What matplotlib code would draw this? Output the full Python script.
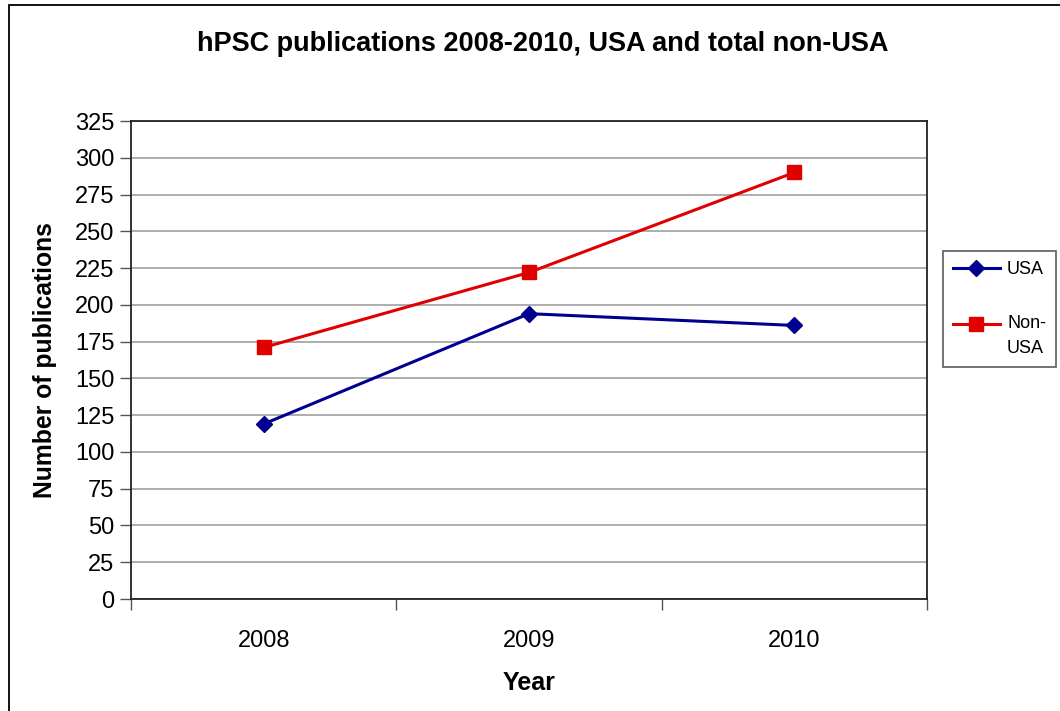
import matplotlib
matplotlib.use("Agg")
import matplotlib.pyplot as plt
from matplotlib.patches import Rectangle
from matplotlib.legend_handler import HandlerLine2D

plt.rcParams['font.family'] = ['Liberation Sans', 'DejaVu Sans']

years = ['2008', '2009', '2010']
usa = [119, 194, 186]
non_usa = [171, 222, 290]
y_ticks = list(range(0, 326, 25))

W, H = 1060, 711
fig = plt.figure(figsize=(W / 100, H / 100), dpi=100)

# outer chart frame
fig.patches.append(Rectangle((9 / W, -0.05), 1.2, 1 - 5 / H + 0.05,
                             transform=fig.transFigure, fill=False,
                             edgecolor='black', linewidth=1.3, zorder=0))

ax = fig.add_axes([131 / W, 1 - 599 / H, (927 - 131) / W, (599 - 121) / H])

x = list(range(len(years)))
l_usa, = ax.plot(x, usa, color='#000090', linewidth=2.2, marker='D', markersize=8,
                 label='USA', zorder=3)
l_non, = ax.plot(x, non_usa, color='#e00000', linewidth=2.2, marker='s', markersize=10,
                 label='Non-\nUSA', zorder=3)

ax.set_xlim(-0.5, 2.5)
ax.set_ylim(0, 325)
ax.set_yticks(y_ticks)
ax.set_yticklabels([str(t) for t in y_ticks])
ax.yaxis.grid(True, color='#a0a0a0', linewidth=1.2)
ax.set_axisbelow(True)

# category labels centred, tick marks on category boundaries
ax.set_xticks([-0.5, 0.5, 1.5, 2.5])
ax.set_xticklabels([])
ax.set_xticks(x, minor=True)
ax.set_xticklabels(years, minor=True)
ax.tick_params(axis='x', which='minor', length=0, pad=22, labelsize=17)
ax.tick_params(axis='x', which='major', length=8, width=1, color='#555555')
ax.tick_params(axis='y', length=8, width=1, color='#555555', labelsize=17, pad=4)

for s in ax.spines.values():
    s.set_color('#222222')
    s.set_linewidth(1.3)

ax.set_xlabel('Year', fontsize=18, fontweight='bold', labelpad=14)
ax.set_ylabel('Number of publications', fontsize=17.8, fontweight='bold', labelpad=13)
fig.text(542.5 / W, 1 - 44 / H, 'hPSC publications 2008-2010, USA and total non-USA',
         ha='center', va='center', fontsize=19.5, fontweight='bold')


class TopLineHandler(HandlerLine2D):
    """Line handle aligned with the first line of a two-line label."""
    def __init__(self, shift, **kw):
        super().__init__(**kw)
        self.shift = shift

    def create_artists(self, legend, orig_handle, xdescent, ydescent,
                       width, height, fontsize, trans):
        arts = super().create_artists(legend, orig_handle, xdescent, ydescent,
                                      width, height, fontsize, trans)
        for a in arts:
            a.set_ydata([y + self.shift for y in a.get_ydata()])
        return arts


leg = ax.legend(loc='upper left', bbox_to_anchor=(943 / W, 1 - 251 / H),
                bbox_transform=fig.transFigure, frameon=True, fancybox=False,
                fontsize=13, handlelength=2.6, labelspacing=2.05,
                borderpad=0.55, handletextpad=0.4, borderaxespad=0,
                handler_map={l_non: TopLineHandler(shift=9)})
leg.get_texts()[1].set_linespacing(1.65)
leg.get_frame().set_edgecolor('#333333')
leg.get_frame().set_linewidth(1.2)

fig.savefig('out.png', dpi=100)
